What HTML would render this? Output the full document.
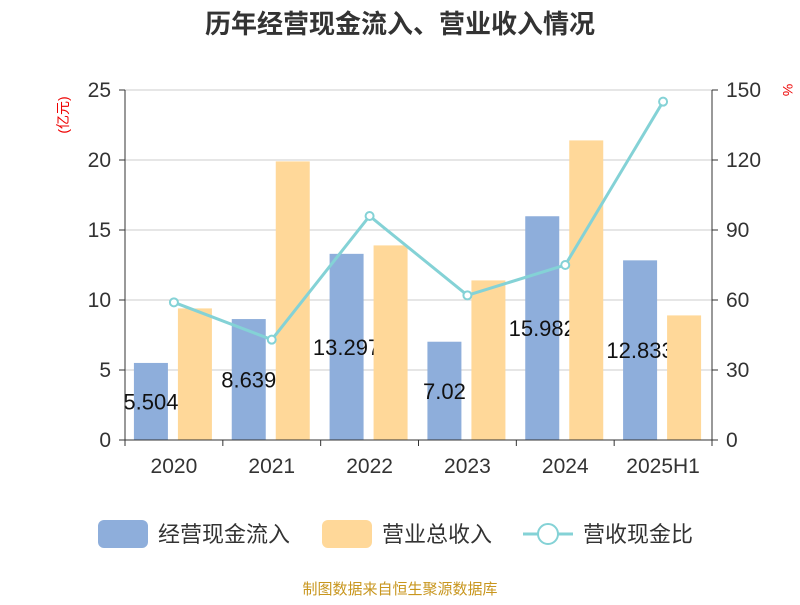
<!DOCTYPE html>
<html><head><meta charset="utf-8"><style>
body{margin:0;background:#fff;font-family:"Liberation Sans","Noto Sans CJK SC",sans-serif}
</style></head><body>
<svg width="800" height="600" xmlns="http://www.w3.org/2000/svg" font-family="Liberation Sans, Noto Sans CJK SC, sans-serif">
<text x="400" y="33" text-anchor="middle" font-size="26" font-weight="bold" fill="#333">历年经营现金流入、营业收入情况</text>
<text transform="translate(68,115) rotate(-90)" text-anchor="middle" font-size="14" fill="#e00">(亿元)</text>
<text transform="translate(783,90) rotate(90)" text-anchor="middle" font-size="14" fill="#e00">%</text>
<g id="grid"></g><g id="bars"></g><g id="labels"></g><g id="bars2"></g><g id="axes"></g><g id="line"></g>
<g>
<rect x="98" y="520" width="50" height="28" rx="6" fill="#8eaedb"/>
<text x="158" y="542" font-size="22" fill="#333">经营现金流入</text>
<rect x="322" y="520" width="50" height="28" rx="6" fill="#ffd899"/>
<text x="382" y="542" font-size="22" fill="#333">营业总收入</text>
<line x1="523" y1="534" x2="573" y2="534" stroke="#84d2d6" stroke-width="3"/>
<circle cx="548" cy="534" r="10" fill="#fff" stroke="#84d2d6" stroke-width="2"/>
<text x="583" y="542" font-size="22" fill="#333">营收现金比</text>
</g>
<text x="400" y="594" text-anchor="middle" font-size="15" fill="#c8961e">制图数据来自恒生聚源数据库</text>
</svg>
<script>
const categories=["2020","2021","2022","2023","2024","2025H1"];
const cashIn=[5.504,8.639,13.297,7.02,15.982,12.833];
const revenue=[9.4,19.9,13.9,11.4,21.4,8.9];
const ratio=[59,43,96,62,75,145];
const leftTicks=[0,5,10,15,20,25];
const rightTicks=[0,30,60,90,120,150];
const NS="http://www.w3.org/2000/svg";
const X0=125,X1=712,Y0=440,Y1=90;
const bw=(X1-X0)/categories.length;
const yL=v=>Y0-(v/25)*(Y0-Y1);
const yR=v=>Y0-(v/150)*(Y0-Y1);
function mk(parent,tag,attrs,text){const e=document.createElementNS(NS,tag);for(const k in attrs)e.setAttribute(k,attrs[k]);if(text!=null)e.textContent=text;document.getElementById(parent).appendChild(e);return e;}
leftTicks.forEach((t,i)=>{
 if(t>0){const g=mk("grid","line",{x1:X0,x2:X1,y1:yL(t),y2:yL(t),stroke:"#ccc","stroke-width":1});
 
 }
 const a=mk("axes","text",{x:X0-14,y:yL(t)+7,"text-anchor":"end","font-size":21,fill:"#333"},t);
 
 
 mk("axes","line",{x1:X0-6,x2:X0,y1:yL(t),y2:yL(t),stroke:"#333"});
 const r=mk("axes","text",{x:X1+14,y:yR(rightTicks[i])+7,"font-size":21,fill:"#333"},rightTicks[i]);
 
 
 mk("axes","line",{x1:X1,x2:X1+6,y1:yR(rightTicks[i]),y2:yR(rightTicks[i]),stroke:"#333"});
});
mk("axes","line",{x1:X0,x2:X0,y1:Y1,y2:Y0,stroke:"#333"});
mk("axes","line",{x1:X1,x2:X1,y1:Y1,y2:Y0,stroke:"#333"});
mk("axes","line",{x1:X0,x2:X1,y1:Y0,y2:Y0,stroke:"#333"});
const pts=[];
categories.forEach((c,i)=>{
 const cx=X0+bw*(i+0.5);
 mk("axes","line",{x1:X0+bw*i,x2:X0+bw*i,y1:Y0,y2:Y0+6,stroke:"#333"});
 if(i===categories.length-1)mk("axes","line",{x1:X1,x2:X1,y1:Y0,y2:Y0+6,stroke:"#333"});
 const xl=mk("axes","text",{x:cx,y:Y0+33,"text-anchor":"middle","font-size":21,fill:"#333"},c);
 
 
 const b=mk("bars","rect",{x:cx-40,y:yL(cashIn[i]),width:34,height:Y0-yL(cashIn[i]),fill:"#8eaedb"});
 
 
 const l=mk("labels","text",{x:cx-23,y:(yL(cashIn[i])+Y0)/2+8,"text-anchor":"middle","font-size":22,fill:"#111"},cashIn[i]);
 
 
 const o=mk("bars2","rect",{x:cx+4,y:yL(revenue[i]),width:34,height:Y0-yL(revenue[i]),fill:"#ffd899"});
 
 
 pts.push([cx,yR(ratio[i])]);
});
const pl=mk("line","polyline",{points:pts.map(p=>p.join(",")).join(" "),fill:"none",stroke:"#84d2d6","stroke-width":3});


pts.forEach(p=>{const c=mk("line","circle",{cx:p[0],cy:p[1],r:4,fill:"#fff",stroke:"#84d2d6","stroke-width":2});
 
 });
</script>
</body></html>
